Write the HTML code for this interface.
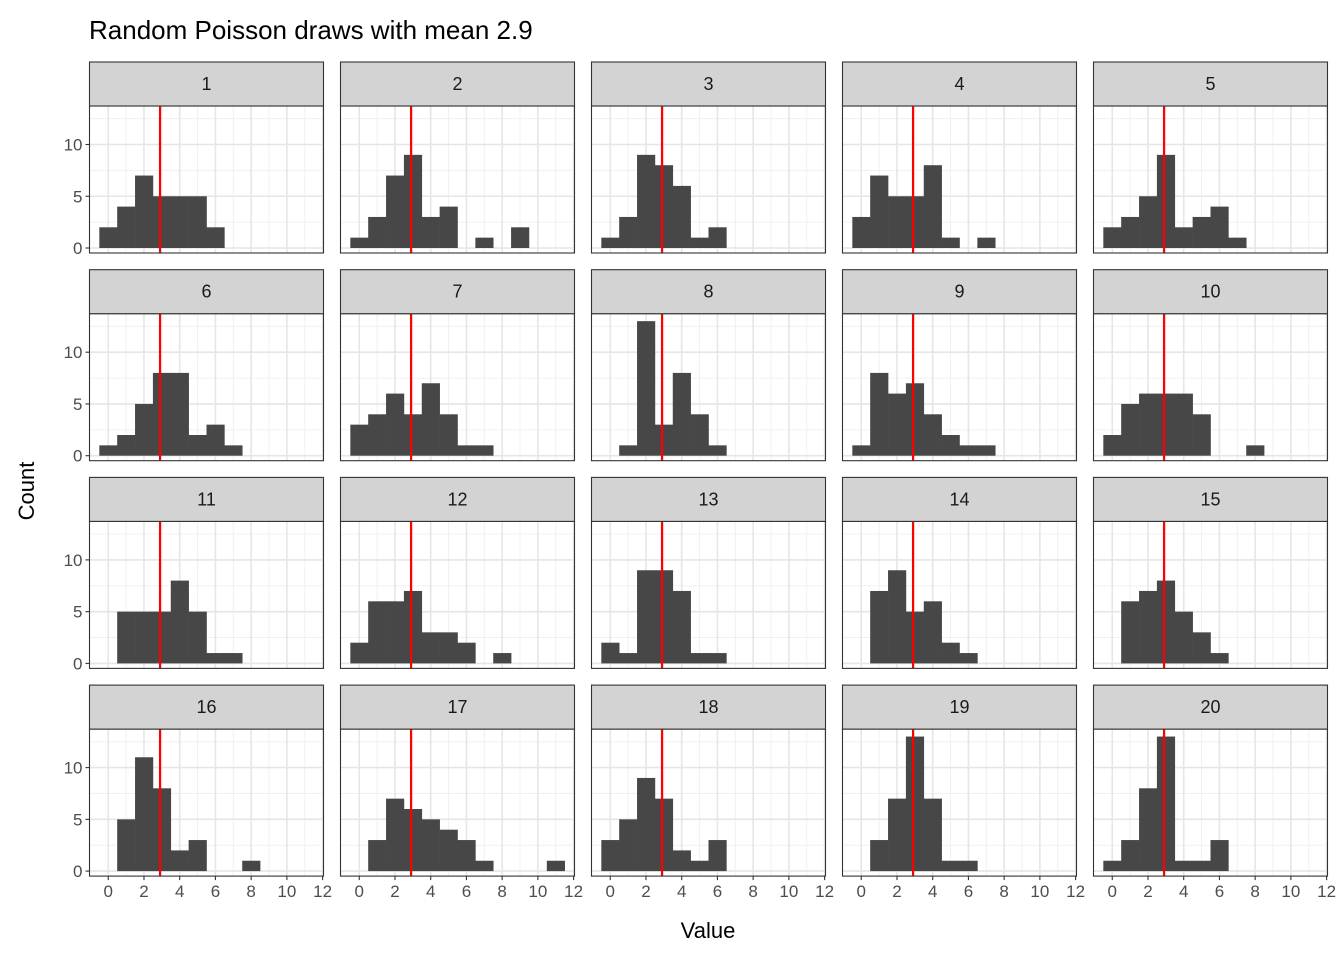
<!DOCTYPE html>
<html><head><meta charset="utf-8"><style>body{margin:0;background:#fff}svg{display:block;font-family:"Liberation Sans",Arial,sans-serif}</style></head>
<body><svg id="s" width="1344" height="960" xmlns="http://www.w3.org/2000/svg"></svg>
<script>
const D=[
{0:2,1:4,2:7,3:5,4:5,5:5,6:2},
{0:1,1:3,2:7,3:9,4:3,5:4,7:1,9:2},
{0:1,1:3,2:9,3:8,4:6,5:1,6:2},
{0:3,1:7,2:5,3:5,4:8,5:1,7:1},
{0:2,1:3,2:5,3:9,4:2,5:3,6:4,7:1},
{0:1,1:2,2:5,3:8,4:8,5:2,6:3,7:1},
{0:3,1:4,2:6,3:4,4:7,5:4,6:1,7:1},
{1:1,2:13,3:3,4:8,5:4,6:1},
{0:1,1:8,2:6,3:7,4:4,5:2,6:1,7:1},
{0:2,1:5,2:6,3:6,4:6,5:4,8:1},
{1:5,2:5,3:5,4:8,5:5,6:1,7:1},
{0:2,1:6,2:6,3:7,4:3,5:3,6:2,8:1},
{0:2,1:1,2:9,3:9,4:7,5:1,6:1},
{1:7,2:9,3:5,4:6,5:2,6:1},
{1:6,2:7,3:8,4:5,5:3,6:1},
{1:5,2:11,3:8,4:2,5:3,8:1},
{1:3,2:7,3:6,4:5,5:4,6:3,7:1,11:1},
{0:3,1:5,2:9,3:7,4:2,5:1,6:3},
{1:3,2:7,3:13,4:7,5:1,6:1},
{0:1,1:3,2:8,3:13,4:1,5:1,6:3}];
let h='';
h+='<text x="89" y="39" font-size="26" fill="#000">Random Poisson draws with mean 2.9</text>';
h+='<text x="708" y="938" font-size="22" text-anchor="middle" fill="#000">Value</text>';
h+='<text transform="translate(34,491) rotate(-90)" font-size="22" text-anchor="middle" fill="#000">Count</text>';
const W=234,sx=W/13.1,ux=10.35;
for(let i=0;i<20;i++){
 const c=i%5,r=Math.floor(i/5);
 const L=89.5+c*251,T=62+r*207.7,PT=T+44,PB=PT+147,Y0=PB-5;
 const X=v=>L+(v+1.05)*sx, Y=v=>Y0-v*ux;
 h+=`<rect x="${L}" y="${PT}" width="${W}" height="${PB-PT}" fill="#fff"/>`;
 for(let v=2.5;v<14;v+=5)h+=`<line x1="${L}" x2="${L+W}" y1="${Y(v)}" y2="${Y(v)}" stroke="#f0f0f0" stroke-width="1"/>`;
 for(let v=1;v<13;v+=2)h+=`<line y1="${PT}" y2="${PB}" x1="${X(v)}" x2="${X(v)}" stroke="#f0f0f0" stroke-width="1"/>`;
 for(let v=0;v<14;v+=5)h+=`<line x1="${L}" x2="${L+W}" y1="${Y(v)}" y2="${Y(v)}" stroke="#e6e6e6" stroke-width="1.6"/>`;
 for(let v=0;v<=12;v+=2)h+=`<line y1="${PT}" y2="${PB}" x1="${X(v)}" x2="${X(v)}" stroke="#e6e6e6" stroke-width="1.6"/>`;
 for(const k in D[i]){const n=D[i][k];h+=`<rect x="${X(+k-0.5)}" y="${Y(n)}" width="${sx+0.3}" height="${n*ux}" fill="#474747"/>`;}
 h+=`<line y1="${PT}" y2="${PB}" x1="${X(2.9)}" x2="${X(2.9)}" stroke="#f00" stroke-width="2.2"/>`;
 h+=`<rect x="${L}" y="${PT}" width="${W}" height="${PB-PT}" fill="none" stroke="#333" stroke-width="1.1"/>`;
 h+=`<rect x="${L}" y="${T}" width="${W}" height="44" fill="#d3d3d3" stroke="#333" stroke-width="1.1"/>`;
 h+=`<text x="${L+W/2}" y="${T+28}" font-size="18" text-anchor="middle" fill="#1a1a1a">${i+1}</text>`;
 if(c==0)for(let v=0;v<14;v+=5){h+=`<line x1="${L-4}" x2="${L}" y1="${Y(v)}" y2="${Y(v)}" stroke="#333" stroke-width="1.1"/><text x="${L-7}" y="${Y(v)+6}" font-size="17" text-anchor="end" fill="#4d4d4d">${v}</text>`;}
 if(r==3)for(let v=0;v<=12;v+=2){h+=`<line y1="${PB}" y2="${PB+4}" x1="${X(v)}" x2="${X(v)}" stroke="#333" stroke-width="1.1"/><text x="${X(v)}" y="${PB+21}" font-size="17" text-anchor="middle" fill="#4d4d4d">${v}</text>`;}
}
document.getElementById('s').innerHTML=h;
</script></body></html>
